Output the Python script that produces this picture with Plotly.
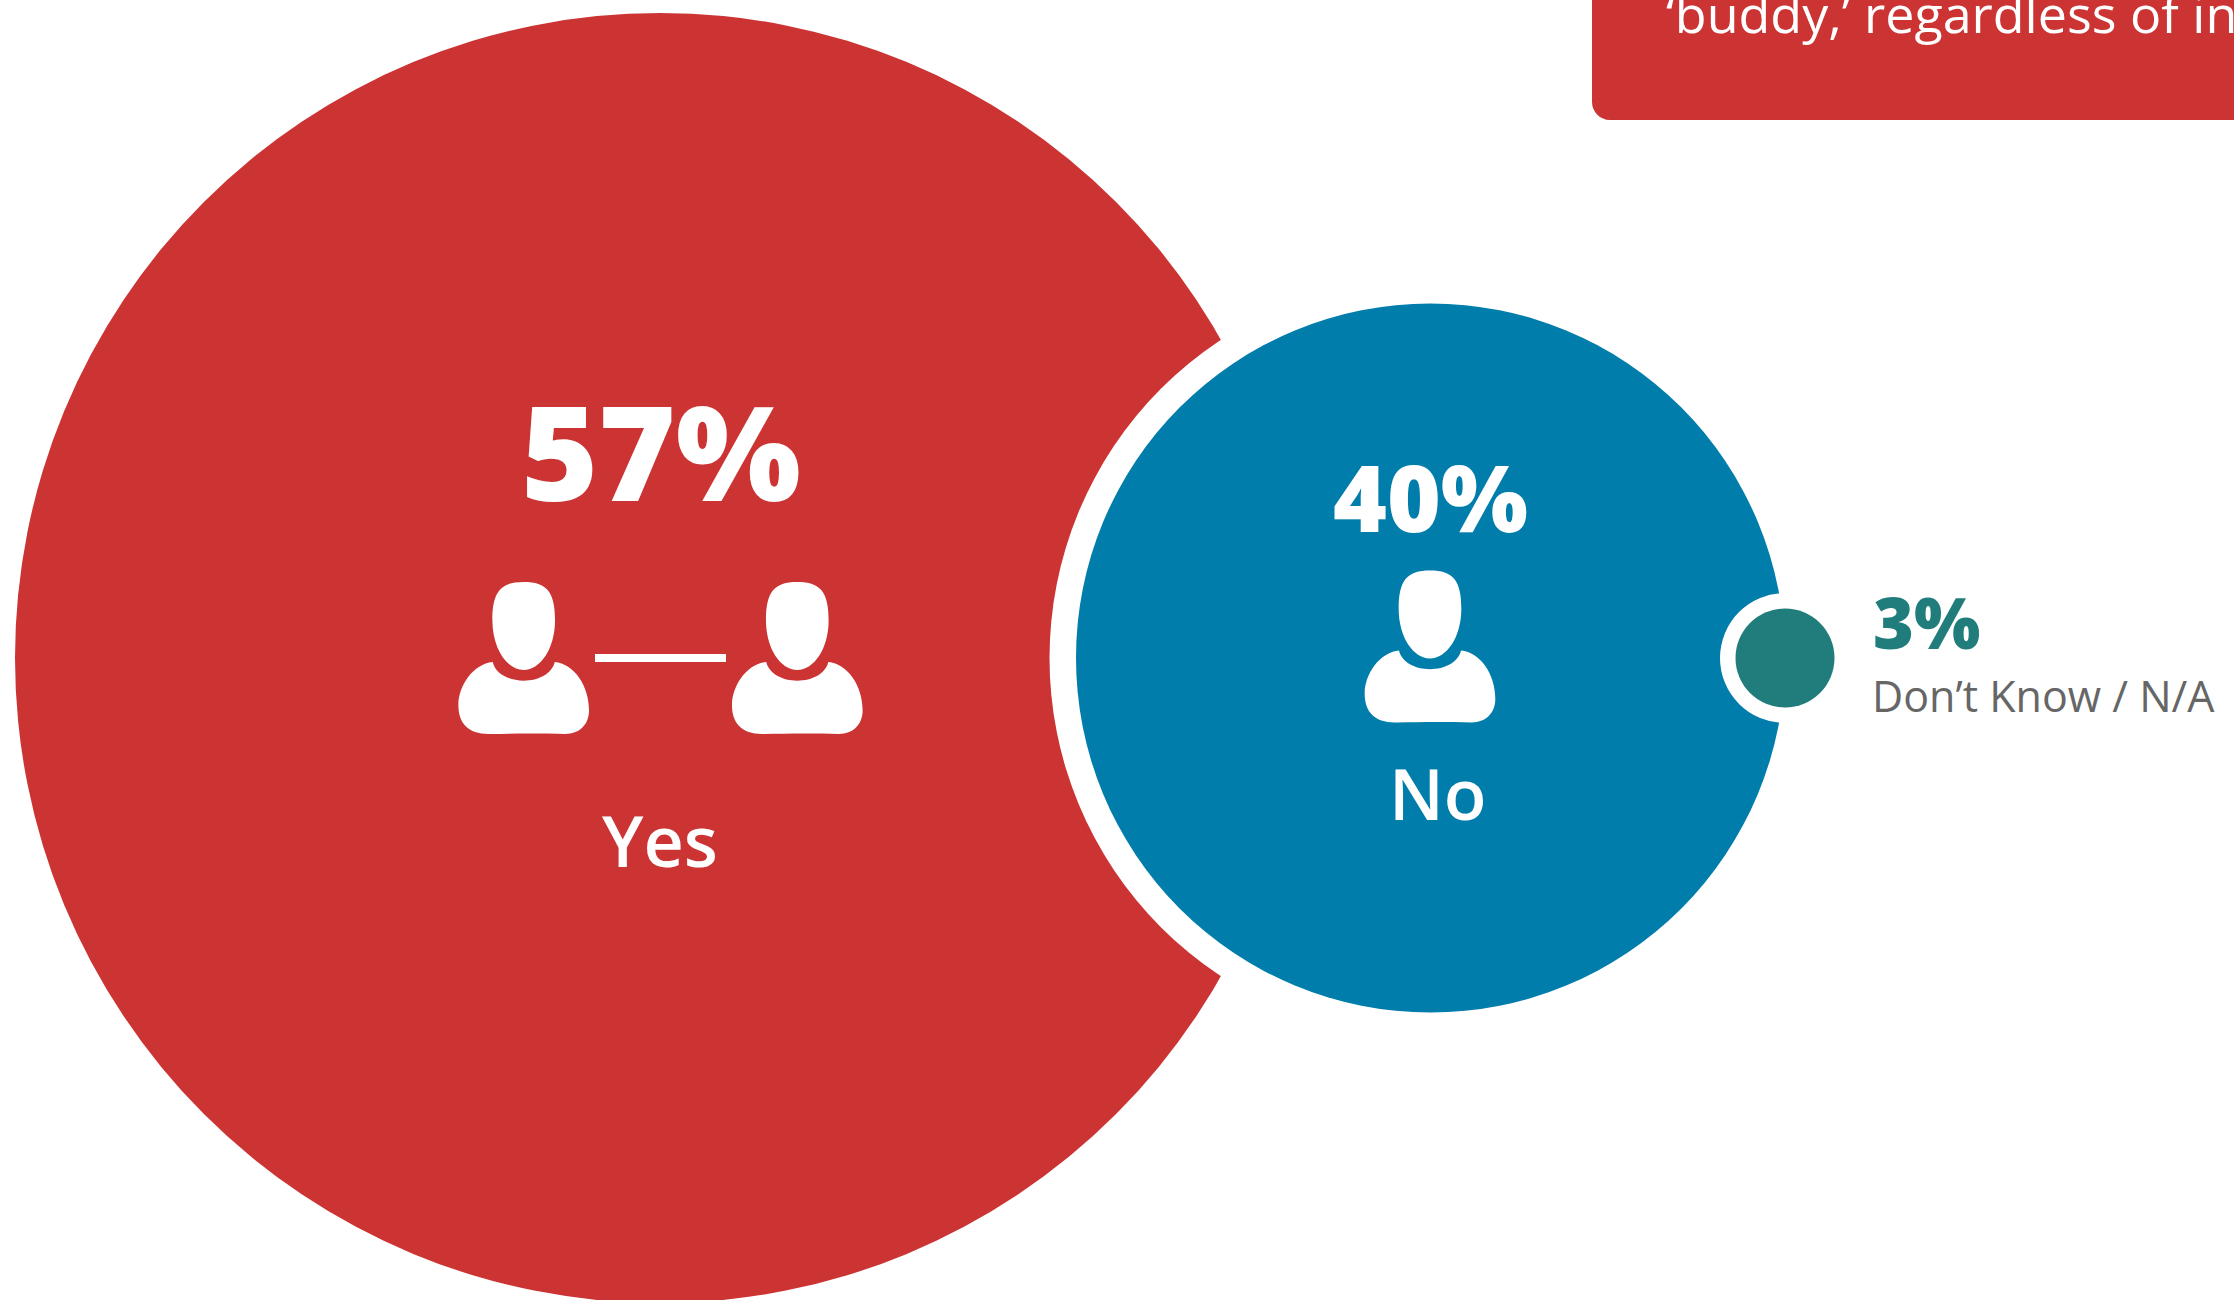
import plotly.graph_objects as go

# ---- data ----
categories = ["Yes", "No", "Don’t Know / N/A"]
values = [57, 40, 3]
callout_text = "‘buddy,’ regardless of in"

# ---- styling / layout (pixel space of the canvas) ----
W, H = 2234, 1300
RED, BLUE, TEAL, GREY = "#cc3333", "#007dab", "#217d7b", "#666666"
FONT = "Open Sans"
colors = [RED, BLUE, TEAL]
cx = [660, 1430.5, 1785]
cy = [658, 658, 658]
radius = [645, 354.5, 49.5]
halo = [0, 381, 65]

fig = go.Figure()
for i, cat in enumerate(categories):
    if halo[i]:
        fig.add_trace(go.Scatter(x=[cx[i]], y=[cy[i]], mode="markers", hoverinfo="skip",
                                 marker=dict(size=2 * halo[i], color="white", line=dict(width=0)),
                                 showlegend=False, cliponaxis=False))
    fig.add_trace(go.Scatter(x=[cx[i]], y=[cy[i]], mode="markers", name=cat,
                             customdata=[values[i]], hovertemplate="%{fullData.name}: %{customdata}%<extra></extra>",
                             marker=dict(size=2 * radius[i], color=colors[i], line=dict(width=0)),
                             showlegend=False, cliponaxis=False))

# ---- person icon, unit path ----
def person(xc, top, s=1 / 3):
    def P(x, y):
        return f"{xc + x * s:.2f},{top + y * s:.2f}"
    def curve(pts):
        return "C " + " ".join(P(*p) for p in pts) + " "
    head = ("M " + P(0, 0) + " " +
            curve([(70, 0), (94, 30), (94, 115)]) +
            curve([(94, 200), (50, 264), (0, 264)]) +
            curve([(-50, 264), (-94, 200), (-94, 115)]) +
            curve([(-94, 30), (-70, 0), (0, 0)]) + "Z ")
    body = ("M " + P(-93, 240) + " " +
            curve([(-85, 275), (-45, 296), (0, 296)]) +
            curve([(45, 296), (85, 275), (93, 240)]) +
            curve([(150, 245), (196, 310), (196, 385)]) +
            curve([(196, 430), (165, 456), (125, 456)]) +
            curve([(60, 454), (-20, 454), (-100, 456)]) +
            curve([(-165, 458), (-196, 425), (-196, 370)]) +
            curve([(-196, 310), (-150, 245), (-93, 240)]) + "Z")
    return dict(type="path", xref="x", yref="y", path=head + body,
                fillcolor="white", line=dict(width=0), layer="above")

shapes = [
    person(523.7, 582), person(797.3, 582), person(1430, 570.5),
    dict(type="rect", xref="x", yref="y", x0=595, x1=726, y0=654, y1=662,
         fillcolor="white", line=dict(width=0)),
    # callout box with a rounded lower-left corner
    dict(type="path", xref="x", yref="y",
         path="M 1592,-20 L 1592,102 C 1592,112 1600,120 1610,120 L 2260,120 L 2260,-20 Z",
         fillcolor=RED, line=dict(width=0), layer="below"),
]

def label(text, x, y, size, color="white", weight=400, anchor="center"):
    return dict(text=text, x=x, y=y, xref="x", yref="y", xanchor=anchor, yanchor="middle",
                showarrow=False, font=dict(family=FONT, size=size, color=color, weight=weight))

annotations = [
    label(f"{values[0]}%", 661, 450, 132, weight=800),
    label(categories[0], 659.5, 840, 70, weight=600),
    label(f"{values[1]}%", 1430, 496, 92, weight=800),
    label(categories[1], 1438, 793, 70, weight=600),
    label(f"{values[2]}%", 1871, 622, 70, color=TEAL, weight=800, anchor="left"),
    label(categories[2], 1870, 695, 43, color=GREY, weight=400, anchor="left"),
    label(callout_text, 1664, 12, 52, weight=400, anchor="left"),
]

fig.update_layout(
    width=W, height=H, margin=dict(l=0, r=0, t=0, b=0),
    paper_bgcolor="white", plot_bgcolor="rgba(0,0,0,0)", showlegend=False,
    xaxis=dict(range=[0, W], visible=False, fixedrange=True),
    yaxis=dict(range=[H, 0], visible=False, fixedrange=True),
    shapes=shapes, annotations=annotations,
)
fig.write_html("out.html", config={"displayModeBar": False},
               post_script="document.body.style.margin='0';document.body.style.overflow='hidden';")
